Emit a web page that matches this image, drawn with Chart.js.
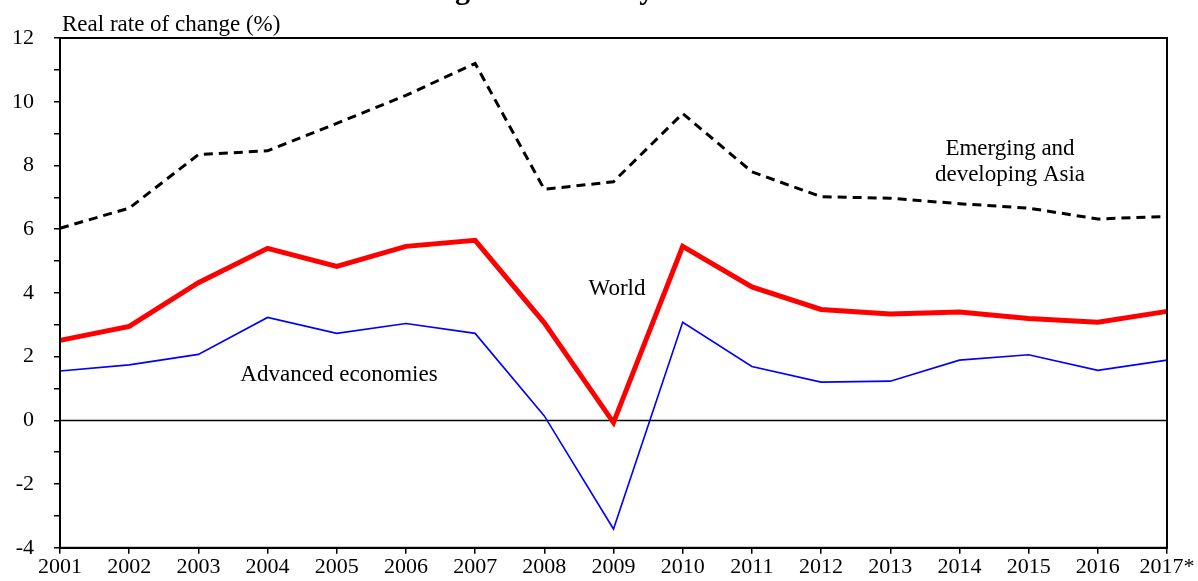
<!DOCTYPE html>
<html>
<head>
<meta charset="utf-8">
<script src="https://cdn.jsdelivr.net/npm/chart.js@4/dist/chart.umd.min.js"></script>
<style>
  html, body { margin: 0; padding: 0; background: #fff; }
  #wrap { width: 1198px; height: 581px; position: relative; }
</style>
</head>
<body>
<div id="wrap"><canvas id="c" width="1198" height="581"></canvas></div>
<script>
const years = ['2001','2002','2003','2004','2005','2006','2007','2008','2009','2010','2011','2012','2013','2014','2015','2016','2017*'];
const asiaValues = [6.03, 6.66, 8.34, 8.46, 9.32, 10.2, 11.2, 7.25, 7.49, 9.63, 7.8, 7.02, 6.97, 6.8, 6.66, 6.32, 6.4];
const worldValues = [2.51, 2.95, 4.32, 5.4, 4.83, 5.46, 5.65, 3.06, -0.07, 5.46, 4.19, 3.48, 3.34, 3.4, 3.2, 3.08, 3.42];
const advancedValues = [1.55, 1.74, 2.07, 3.23, 2.73, 3.04, 2.73, 0.14, -3.41, 3.08, 1.69, 1.2, 1.23, 1.89, 2.06, 1.57, 1.89];
const yTickLabels = [-4, -2, 0, 2, 4, 6, 8, 10, 12];
const titleText = 'global economy in 2017';
const axisTitle = 'Real rate of change (%)';
const seriesLabels = ['Emerging and developing Asia', 'World', 'Advanced economies'];

const FONT = "'Liberation Serif', 'Times New Roman', serif";

const decor = {
  id: 'decor',
  beforeDatasetsDraw(chart) {
    const { ctx, chartArea: a, scales } = chart;
    const y0 = scales.y.getPixelForValue(0);
    ctx.save();
    ctx.strokeStyle = '#000';
    ctx.lineWidth = 1.5;
    ctx.beginPath();
    ctx.moveTo(a.left, Math.round(y0) + 0.5);
    ctx.lineTo(a.right, Math.round(y0) + 0.5);
    ctx.stroke();
    ctx.restore();
  },
  afterDatasetsDraw(chart) {
    const { ctx, chartArea: a } = chart;
    ctx.save();
    ctx.strokeStyle = '#000';
    ctx.lineWidth = 2;
    ctx.strokeRect(a.left, a.top, a.right - a.left, a.bottom - a.top);
    ctx.fillStyle = '#000';
    ctx.font = '23px ' + FONT;
    ctx.textBaseline = 'alphabetic';
    ctx.textAlign = 'left';
    ctx.fillText(axisTitle, 62, 31);
    ctx.textAlign = 'center';
    ctx.fillText('Emerging and', 1010, 155);
    ctx.fillText('developing Asia', 1010, 181);
    ctx.fillText('World', 617, 295);
    ctx.fillText('Advanced economies', 339, 381);
    ctx.font = 'bold 30px ' + FONT;
    ctx.textAlign = 'left';
    ctx.fillText(titleText, 455, -1);
    ctx.restore();
  }
};

new Chart(document.getElementById('c'), {
  type: 'line',
  data: {
    labels: years,
    datasets: [
      { label: seriesLabels[0], data: asiaValues, borderColor: '#000', borderWidth: 3, borderDash: [9, 6], pointRadius: 0, tension: 0, fill: false },
      { label: seriesLabels[1], data: worldValues, borderColor: '#ff0000', borderWidth: 5, pointRadius: 0, tension: 0, fill: false },
      { label: seriesLabels[2], data: advancedValues, borderColor: '#0000ff', borderWidth: 1.6, pointRadius: 0, tension: 0, fill: false }
    ]
  },
  options: {
    responsive: false,
    animation: false,
    devicePixelRatio: 1,
    layout: { padding: { left: 0, right: 31, top: 38, bottom: 0 } },
    plugins: { legend: { display: false }, tooltip: { enabled: false }, title: { display: false } },
    scales: {
      x: {
        type: 'category',
        offset: false,
        grid: { display: true, drawOnChartArea: false, drawTicks: true, tickLength: 6, color: '#000', lineWidth: 1.5 },
        border: { display: true, color: '#000', width: 2 },
        ticks: { color: '#000', font: { family: FONT, size: 22 }, padding: 0, maxRotation: 0, autoSkip: false },
        afterFit(scale) { scale.height = 32; }
      },
      y: {
        min: -4, max: 12,
        grid: { display: true, drawOnChartArea: false, drawTicks: true, tickLength: 6, color: '#000', lineWidth: 1.5 },
        border: { display: true, color: '#000', width: 2 },
        ticks: {
          stepSize: 1, color: '#000', font: { family: FONT, size: 22 }, padding: 20,
          callback(v) { return yTickLabels.includes(v) ? String(v) : ''; }
        },
        afterFit(scale) { scale.width = 60; }
      }
    }
  },
  plugins: [decor]
});
</script>
</body>
</html>
